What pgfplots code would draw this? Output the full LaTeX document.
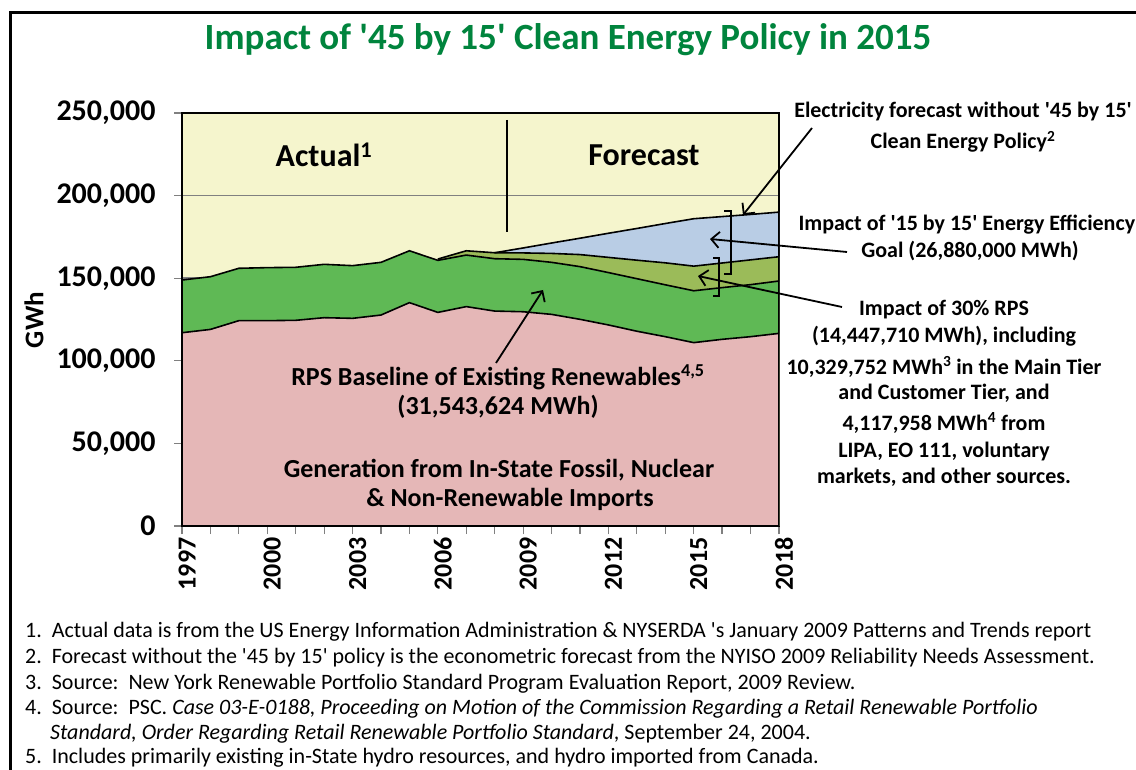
\documentclass[border=0pt]{standalone}
\usepackage{fontspec}
\setmainfont{Carlito}
\usepackage{pgfplots}
\pgfplotsset{compat=1.18}
\usepackage{pgfplotstable}
\usetikzlibrary{arrows.meta}
\definecolor{bgyellow}{RGB}{245,245,205}
\definecolor{cblue}{RGB}{185,205,229}
\definecolor{colive}{RGB}{155,187,89}
\definecolor{cgreen}{RGB}{95,185,85}
\definecolor{cpink}{RGB}{229,183,183}
\definecolor{titlegreen}{RGB}{0,132,61}

\pgfplotstableread{
year v
1997 117000
1998 119000
1999 124300
2000 124300
2001 124500
2002 126100
2003 125700
2004 127700
2005 135200
2006 129300
2007 132800
2008 130100
2009 129700
2010 128100
2011 125100
2012 121700
2013 117900
2014 114600
2015 111000
2016 113000
2017 114600
2018 116600
}\pinktab

\pgfplotstableread{
year v
1997 148900
1998 150900
1999 156000
2000 156400
2001 156600
2002 158400
2003 157600
2004 159600
2005 166600
2006 160800
2007 164000
2008 161800
2009 161400
2010 159600
2011 157000
2012 153400
2013 149700
2014 146000
2015 142400
2016 144300
2017 146100
2018 148300
}\greentab

\pgfplotstableread{
year v
2006 161600
2007 166600
2008 165400
2009 165300
2010 165000
2011 164300
2012 162600
2013 160900
2014 159300
2015 157300
2016 159200
2017 161100
2018 163000
}\olivetab

\pgfplotstableread{
year v
2008 165400
2009 168300
2010 171300
2011 174200
2012 177200
2013 180100
2014 183100
2015 186000
2016 187300
2017 188600
2018 190000
}\bluetab

\begin{document}
\begin{tikzpicture}
\path[use as bounding box, clip] (0pt,0pt) rectangle (1136pt,-770pt);
\fill[white] (0pt,0pt) rectangle (1136pt,-770pt);
\draw[line width=3pt] (10pt,-13pt) rectangle (1200pt,-800pt);

\begin{axis}[
  at={(182pt,-526pt)}, anchor=south west,
  scale only axis, width=597pt, height=413pt,
  xmin=1997, xmax=2018, ymin=0, ymax=250000,
  axis background/.style={fill=bgyellow},
  xtick={1997,2000,...,2018},
  xticklabels={1997,2000,2003,2006,2009,2012,2015,2018},
  minor xtick={1997,...,2018},
  ytick={0,50000,...,250000},
  yticklabels={0,{50,000},{100,000},{150,000},{200,000},{250,000}},
  scaled y ticks=false,
  tick align=outside, xtick pos=bottom, ytick pos=left,
  major tick length=8pt, minor tick length=8pt,
  tick style={gray, line width=1.2pt},
  ymajorgrids, grid style={gray, line width=1.5pt},
  axis line style={black, line width=2pt},
  xticklabel style={rotate=90, anchor=east, yshift=-5pt, font=\fontsize{26}{26}\selectfont\bfseries},
  yticklabel style={font=\fontsize{30}{30}\selectfont\bfseries, xshift=-15pt},
]
\addplot[draw=none, fill=cblue] table[x=year,y=v] {\bluetab} \closedcycle;
\addplot[draw=none, fill=colive] table[x=year,y=v] {\olivetab} \closedcycle;
\addplot[draw=none, fill=cgreen] table[x=year,y=v] {\greentab} \closedcycle;
\addplot[draw=none, fill=cpink] table[x=year,y=v] {\pinktab} \closedcycle;
\addplot[black, line width=1.6pt] table[x=year,y=v] {\bluetab};
\addplot[black, line width=1.6pt] table[x=year,y=v] {\olivetab};
\addplot[black, line width=1.6pt] table[x=year,y=v] {\greentab};
\addplot[black, line width=1.6pt] table[x=year,y=v] {\pinktab};
\draw[black, line width=2pt] (rel axis cs:0,0) rectangle (rel axis cs:1,1);
\end{axis}

% title
\node[text=titlegreen, font=\fontsize{37}{37}\selectfont\bfseries] at (568pt,-40pt) {Impact of \textquotesingle 45 by 15\textquotesingle{} Clean Energy Policy in 2015};
% y label
\node[rotate=90, font=\fontsize{27}{27}\selectfont\bfseries] at (34pt,-320pt) {GWh};

% separator
\draw[line width=2.5pt] (507pt,-120pt) -- (507pt,-232pt);
\node[font=\fontsize{32}{32}\selectfont\bfseries] at (324pt,-155pt) {Actual\textsuperscript{1}};
\node[font=\fontsize{32}{32}\selectfont\bfseries] at (644pt,-155pt) {Forecast};

% inner labels
\begin{scope}[font=\fontsize{26}{26}\selectfont\bfseries]
\node at (498pt,-377pt) {RPS Baseline of Existing Renewables\textsuperscript{4,5}};
\node at (498pt,-407pt) {(31,543,624 MWh)};
\node at (499pt,-470pt) {Generation from In-State Fossil, Nuclear};
\node at (510pt,-499pt) {\& Non-Renewable Imports};
\end{scope}

% right labels
\begin{scope}[font=\fontsize{22}{22}\selectfont\bfseries]
\node at (963pt,-112pt) {Electricity forecast without \textquotesingle 45 by 15\textquotesingle};
\node at (963pt,-142pt) {Clean Energy Policy\textsuperscript{2}};
\node[anchor=west] at (795pt,-225pt) {Impact of \textquotesingle 15 by 15\textquotesingle{} Energy Efficiency};
\node at (970pt,-251pt) {Goal (26,880,000 MWh)};
\node at (944pt,-310pt) {Impact of 30\% RPS};
\node at (944pt,-336pt) {(14,447,710 MWh), including};
\node at (944pt,-367pt) {10,329,752 MWh\textsuperscript{3} in the Main Tier};
\node at (944pt,-393pt) {and Customer Tier, and};
\node at (944pt,-423pt) {4,117,958 MWh\textsuperscript{4} from};
\node at (944pt,-452pt) {LIPA, EO 111, voluntary};
\node at (944pt,-477pt) {markets, and other sources.};
\end{scope}

% arrows
\begin{scope}[line width=1.8pt, -{Straight Barb[length=8pt,width=16pt,line width=1.8pt]}]
\draw (812pt,-128pt) -- (743pt,-215pt);
\draw (847pt,-252pt) -- (710pt,-239pt);
\draw (842pt,-307pt) -- (698pt,-276pt);
\draw (496pt,-363pt) -- (543pt,-290pt);
\end{scope}
% brackets
\draw[line width=2pt] (724pt,-211pt) -- (731pt,-211pt) -- (731pt,-274pt) -- (724pt,-274pt);
\draw[line width=2pt] (713pt,-258pt) -- (719pt,-258pt) -- (719pt,-296pt) -- (713pt,-296pt);

% footnotes
\begin{scope}[font=\fontsize{22}{22}\selectfont, anchor=west, inner sep=0pt]
\node at (25pt,-632pt) {1.\ \ Actual data is from the US Energy Information Administration \& NYSERDA \textquotesingle s January 2009 Patterns and Trends report};
\node at (25pt,-658pt) {2.\ \ Forecast without the \textquotesingle 45 by 15\textquotesingle{} policy is the econometric forecast from the NYISO 2009 Reliability Needs Assessment.};
\node at (25pt,-684pt) {3.\ \ Source:\ \ New York Renewable Portfolio Standard Program Evaluation Report, 2009 Review.};
\node at (25pt,-709pt) {4.\ \ Source:\ \ PSC. \textit{Case 03-E-0188, Proceeding on Motion of the Commission Regarding a Retail Renewable Portfolio}};
\node at (50pt,-734pt) {\textit{Standard, Order Regarding Retail Renewable Portfolio Standard}, September 24, 2004.};
\node at (25pt,-758pt) {5.\ \ Includes primarily existing in-State hydro resources, and hydro imported from Canada.};
\end{scope}
\end{tikzpicture}
\end{document}
